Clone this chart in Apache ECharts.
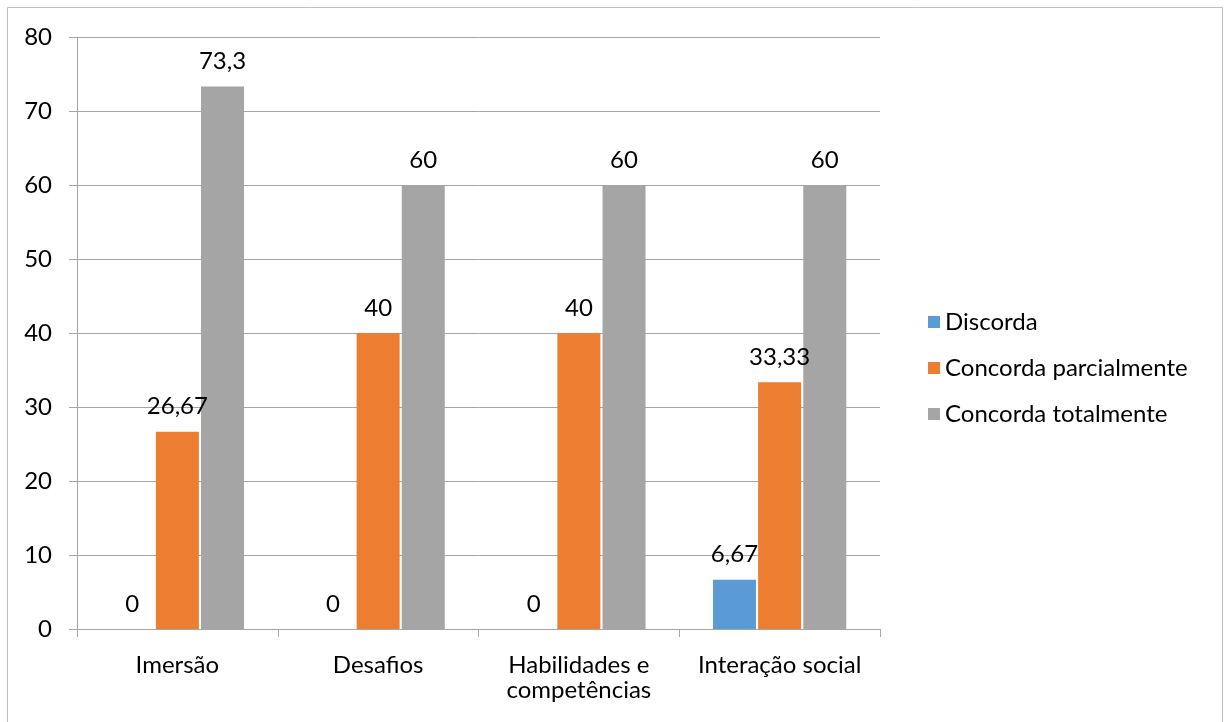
<!DOCTYPE html>
<html>
<head>
<meta charset="utf-8">
<script src="https://cdn.jsdelivr.net/npm/echarts@6/dist/echarts.min.js"></script>
<style>
  html, body { margin: 0; padding: 0; background: #ffffff; }
  #chart { width: 1224px; height: 722px; }
</style>
</head>
<body>
<div id="chart"></div>
<script>
// Survey results by dimension (percent of respondents)
const categories = ['Imersão', 'Desafios', 'Habilidades e\ncompetências', 'Interação social'];
const discorda = [0, 0, 0, 6.67];
const concordaParcial = [26.67, 40, 40, 33.33];
const concordaTotal = [73.3, 60, 60, 60];
const seriesNames = ['Discorda', 'Concorda parcialmente', 'Concorda totalmente'];
const yTicks = { min: 0, max: 80, interval: 10 };

const FONT = 'Lato';
const FONT_SIZE = 24;
const colors = ['#5b9bd5', '#ed7d31', '#a5a5a5'];

const fmt = p => String(p.value).replace('.', ',');

function barSeries(name, data, color) {
  return {
    name: name,
    type: 'bar',
    data: data,
    barWidth: 43,
    barGap: '5%',
    itemStyle: { color: color },
    label: {
      show: true,
      position: 'top',
      distance: 13,
      formatter: fmt,
      fontFamily: FONT,
      fontSize: FONT_SIZE,
      color: '#000000'
    }
  };
}

const chart = echarts.init(document.getElementById('chart'), null, { renderer: 'canvas' });
chart.setOption({
  animation: false,
  backgroundColor: '#ffffff',
  color: colors,
  graphic: [{
    type: 'rect',
    shape: { x: 7.5, y: 7.5, width: 1215, height: 730 },
    style: { fill: 'none', stroke: '#bfbfbf', lineWidth: 1 },
    silent: true,
    z: -10
  }],
  grid: { left: 77, right: 344, top: 37, bottom: 93, containLabel: false },
  legend: {
    orient: 'vertical',
    left: 923,
    top: 305,
    itemWidth: 12,
    itemHeight: 12,
    itemGap: 22,
    icon: 'rect',
    textStyle: { fontFamily: FONT, fontSize: FONT_SIZE, color: '#000000' },
    data: seriesNames
  },
  xAxis: {
    type: 'category',
    data: categories,
    axisLine: { show: true, lineStyle: { color: '#a6a6a6', width: 1 } },
    axisTick: { show: true, alignWithLabel: false, length: 8, lineStyle: { color: '#a6a6a6' } },
    axisLabel: { fontFamily: FONT, fontSize: FONT_SIZE, color: '#000000', margin: 24, lineHeight: 25, interval: 0 }
  },
  yAxis: {
    type: 'value',
    min: yTicks.min,
    max: yTicks.max,
    interval: yTicks.interval,
    axisLine: { show: true, lineStyle: { color: '#a6a6a6', width: 1 } },
    axisTick: { show: true, inside: false, length: 8, lineStyle: { color: '#a6a6a6' } },
    splitLine: { show: true, lineStyle: { color: '#a6a6a6', width: 1 } },
    axisLabel: { fontFamily: FONT, fontSize: FONT_SIZE, color: '#000000', margin: 25 }
  },
  series: [
    barSeries(seriesNames[0], discorda, colors[0]),
    barSeries(seriesNames[1], concordaParcial, colors[1]),
    barSeries(seriesNames[2], concordaTotal, colors[2])
  ]
});
</script>
</body>
</html>
